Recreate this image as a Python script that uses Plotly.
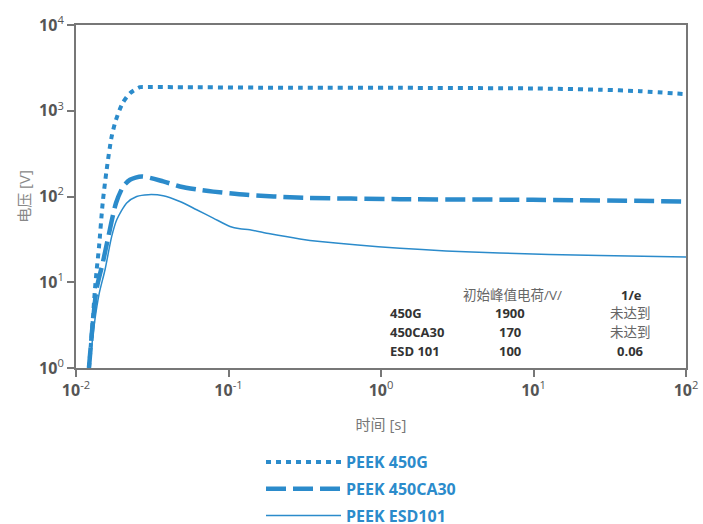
import plotly.graph_objects as go

# ---- data ----
t_450g = [0.01216, 0.01274, 0.01333, 0.01367, 0.01416, 0.01496, 0.01588, 0.01713, 0.01828, 0.0202, 0.0226,
          0.0263, 0.0297, 0.294, 1.33, 9.9, 27.3, 49.9, 100]
v_450g = [1.0, 2.8, 8.5, 14, 26, 84, 205, 500, 783, 1227, 1603,
          1884, 1890, 1850, 1850, 1820, 1760, 1690, 1560]

t_ca30 = [0.01216, 0.0129, 0.01367, 0.01496, 0.0163, 0.0183, 0.0204, 0.0226, 0.027, 0.0373,
          0.048, 0.0618, 0.0794, 0.131, 0.28, 1.33, 9.9, 100]
v_ca30 = [1.0, 3.4, 8.5, 16.7, 34, 84, 131, 157, 171, 150,
          131, 121, 114, 104.6, 97.3, 93, 91.5, 87.5]

t_esd = [0.01225, 0.0132, 0.01422, 0.0155, 0.01713, 0.0185, 0.0215, 0.025, 0.0298, 0.0373, 0.048,
         0.0618, 0.0794, 0.1022, 0.119, 0.138, 0.187, 0.294, 0.398, 1.33, 6.0, 27.3, 100]
v_esd = [1.0, 3.3, 7.5, 14, 34, 53.5, 84, 100, 105, 102, 87.5,
         70, 56, 44.7, 42, 41, 36.7, 32, 29.9, 25, 21.9, 20.5, 19.7]

series_names = ["PEEK 450G", "PEEK 450CA30", "PEEK ESD101"]

x_tickvals = [0.01, 0.1, 1, 10, 100]
x_ticktext = ["<b>10</b><sup>-2</sup>", "<b>10</b><sup>-1</sup>", "<b>10</b><sup>0</sup>",
              "<b>10</b><sup>1</sup>", "<b>10</b><sup>2</sup>"]
y_tickvals = [1, 10, 100, 1000, 10000]
y_ticktext = ["<b>10</b><sup>0</sup>", "<b>10</b><sup>1</sup>", "<b>10</b><sup>2</sup>",
              "<b>10</b><sup>3</sup>", "<b>10</b><sup>4</sup>"]

table_header = ["初始峰值电荷/V/", "1/e"]
table_rows = [["450G", "1900", "未达到"], ["450CA30", "170", "未达到"], ["ESD 101", "100", "0.06"]]

BLUE = "#2b8bcb"
FONT = "Open Sans, Noto Sans CJK SC, sans-serif"

fig = go.Figure()
fig.add_trace(go.Scatter(x=t_450g, y=v_450g, mode="lines", name=series_names[0], legendgroup="a",
                         line=dict(color=BLUE, width=4, dash="5px,5px", shape="spline", smoothing=0.7)))
fig.add_trace(go.Scatter(x=t_ca30, y=v_ca30, mode="lines", name=series_names[1], legendgroup="b",
                         line=dict(color=BLUE, width=4.5, dash="20px,7px", shape="spline", smoothing=0.7)))
fig.add_trace(go.Scatter(x=t_esd, y=v_esd, mode="lines", name=series_names[2], legendgroup="c",
                         line=dict(color=BLUE, width=1.5, shape="spline", smoothing=0.7)))

L, R, T, B = 76, 17, 25, 156
W, H = 703, 524
pw = W - L - R
ph = H - T - B

def px(x):
    return (x - L) / pw

def py(y):
    return (H - B - y) / ph

annots = []
hdr_font = dict(family=FONT, size=13.5, color="#666")
bold_font = dict(family=FONT, size=13, color="#333")
annots.append(dict(x=px(512), y=py(295), text=table_header[0], font=hdr_font))
annots.append(dict(x=px(631), y=py(295), text="<b>" + table_header[1] + "</b>", font=bold_font))
row_y = [313, 332, 351]
for (name, peak, e), yy in zip(table_rows, row_y):
    annots.append(dict(x=px(388), y=py(yy), text="<b>" + name + "</b>", font=bold_font, xanchor="left"))
    annots.append(dict(x=px(510), y=py(yy), text="<b>" + peak + "</b>", font=bold_font))
    if e == "未达到":
        annots.append(dict(x=px(630), y=py(yy), text=e, font=hdr_font))
    else:
        annots.append(dict(x=px(630), y=py(yy), text="<b>" + e + "</b>", font=bold_font))
for a in annots:
    a.update(xref="paper", yref="paper", showarrow=False, yanchor="middle")
    a.setdefault("xanchor", "center")

axis_common = dict(showgrid=False, zeroline=False, showline=True, linecolor="#777", linewidth=2,
                   mirror=True, ticks="outside", ticklen=7, tickwidth=2, tickcolor="#777",
                   tickfont=dict(family=FONT, size=16, color="#555"))

fig.update_layout(
    width=W, height=H,
    margin=dict(l=L, r=R, t=T, b=B, autoexpand=False),
    paper_bgcolor="white", plot_bgcolor="white",
    xaxis=dict(type="log", range=[-2, 2], tickvals=x_tickvals, ticktext=x_ticktext,
               title=dict(text="时间 [s]", font=dict(family=FONT, size=15, color="#777"), standoff=19),
               **axis_common),
    yaxis=dict(type="log", range=[0, 4], tickvals=y_tickvals, ticktext=y_ticktext,
               title=dict(text="电压 [V]", font=dict(family=FONT, size=15, color="#888"), standoff=5),
               **axis_common),
    showlegend=True,
    legend=dict(x=px(261), y=py(445), xanchor="left", yanchor="top", orientation="v",
                font=dict(family=FONT, size=16, color=BLUE, weight="bold"),
                itemwidth=75, tracegroupgap=3, bgcolor="rgba(0,0,0,0)"),
    annotations=annots,
)

fig.write_html("out.html")
